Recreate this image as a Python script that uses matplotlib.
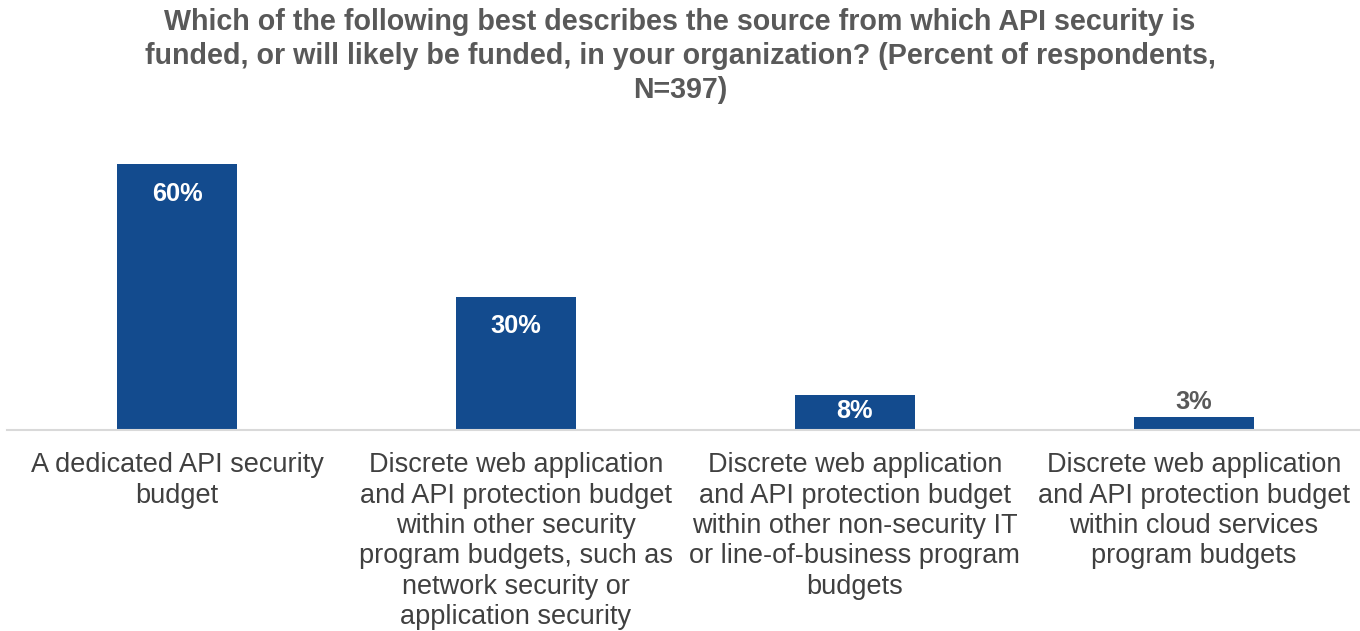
import matplotlib
matplotlib.use("Agg")
import matplotlib.pyplot as plt

plt.rcParams["font.family"] = ["Liberation Sans", "DejaVu Sans"]

categories = [
    "A dedicated API security\nbudget",
    "Discrete web application\nand API protection budget\nwithin other security\nprogram budgets, such as\nnetwork security or\napplication security",
    "Discrete web application\nand API protection budget\nwithin other non-security IT\nor line-of-business program\nbudgets",
    "Discrete web application\nand API protection budget\nwithin cloud services\nprogram budgets",
]
values = [60, 30, 8, 3]

title = ("Which of the following best describes the source from which API security is\n"
         "funded, or will likely be funded, in your organization? (Percent of respondents,\n"
         "N=397)")

bar_color = "#134b8e"
text_gray = "#595959"

fig = plt.figure(figsize=(13.6, 6.31), dpi=100)
ax = fig.add_axes([0.0055, 0.3185, 0.997, 0.49])

x = range(len(values))
bars = ax.bar(x, values, width=0.354, color=bar_color)
ax.set_xlim(-0.5, 3.5)
ax.set_ylim(0, 69.8)

for i, (b, v) in enumerate(zip(bars, values)):
    cx = b.get_x() + b.get_width() / 2
    if v >= 15:
        # inside end, with a margin below the bar top
        ax.text(cx, v - 3.9, f"{v}%", ha="center", va="top",
                color="white", fontsize=18.3, fontweight="bold")
    elif v >= 5:
        ax.text(cx, v - 0.9, f"{v}%", ha="center", va="top",
                color="white", fontsize=18.3, fontweight="bold")
    else:
        ax.text(cx, v + 0.6, f"{v}%", ha="center", va="bottom",
                color=text_gray, fontsize=18.3, fontweight="bold")

ax.set_xticks(list(x))
ax.set_xticklabels(categories, fontsize=19.5, color="#404040", linespacing=1.22, va="top")
ax.tick_params(axis="x", length=0, pad=16)
ax.set_yticks([])
for s in ["top", "right", "left"]:
    ax.spines[s].set_visible(False)
ax.spines["bottom"].set_color("#d9d9d9")
ax.spines["bottom"].set_linewidth(1.5)

fig.text(0.5, 0.987, title, ha="center", va="top", fontsize=20.6, fontweight="bold",
         color=text_gray, linespacing=1.27)

fig.savefig("out.png", dpi=100)
